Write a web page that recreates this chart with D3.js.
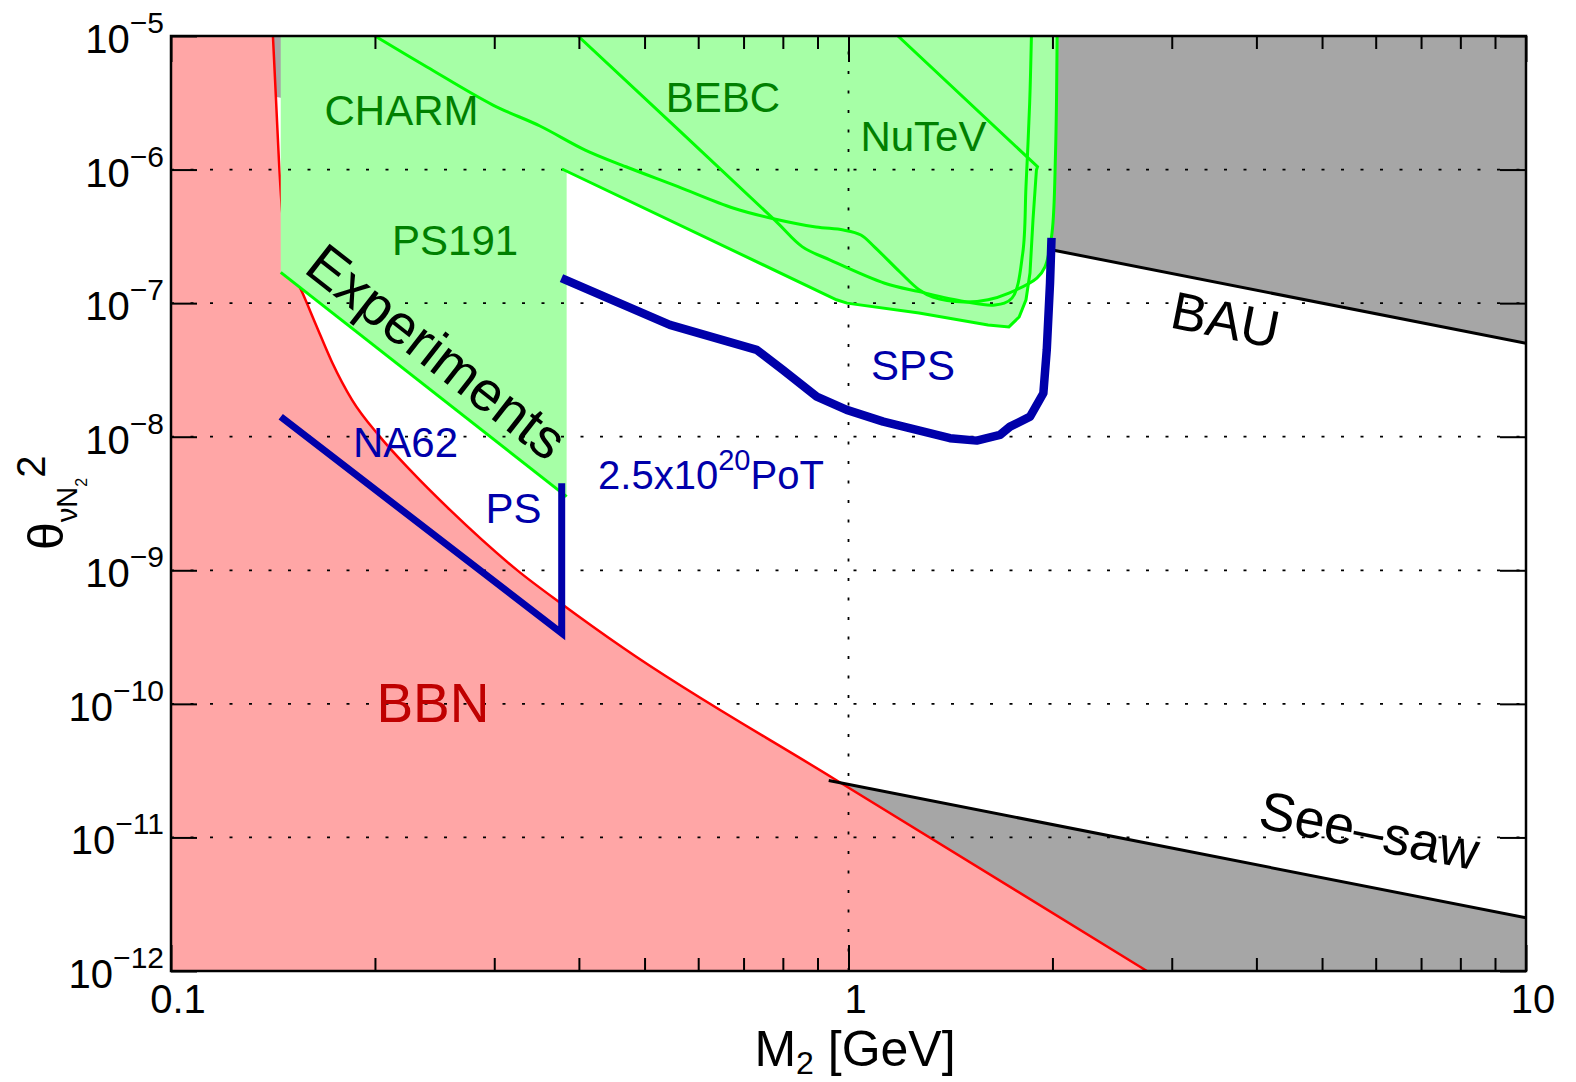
<!DOCTYPE html>
<html>
<head>
<meta charset="utf-8">
<script src="https://cdnjs.cloudflare.com/ajax/libs/d3/7.8.5/d3.min.js"></script>
<style>
    html, body { margin: 0; padding: 0; background: #fff; }
    svg { display: block; font-family: "Liberation Sans", Arial, Helvetica, sans-serif; }
</style>
</head>
<body>
<svg id="chart" width="1576" height="1082"></svg>
<script>
(function () {

    // heavy neutral lepton mass M2 [GeV] and mixing theta^2

    // BBN lower bound (red)
    var bbnM     = [0.1414, 0.1429, 0.1443, 0.1458, 0.1483, 0.1519, 0.1566, 0.1637, 0.1728, 0.1850,
                    0.2035, 0.2253, 0.2581, 0.3252, 0.3773, 0.4647, 0.9519, 2.758],
        bbnTheta = [1e-5, 3.32e-6, 1.18e-6, 4.98e-7, 2.50e-7, 1.65e-7, 1.17e-7, 6.87e-8, 3.63e-8, 1.89e-8,
                    9.97e-9, 5.64e-9, 2.83e-9, 9.90e-10, 5.60e-10, 2.63e-10, 2.75e-11, 1.0e-12];

    // see-saw and BAU lines (black, grey regions)
    var seesawM = [0.935, 10],
        seesawTheta = [2.67e-11, 2.5e-12],
        bauM = [0.1, 2.0, 10],
        bauTheta = [5e-6, 2.5e-7, 5e-8];

    // past experiments (green)
    var charmM     = [0.2000, 0.2387, 0.2987, 0.3504, 0.4087, 0.4694, 0.5603, 0.6753, 0.7777, 0.8953, 0.9828, 1.043,
                      1.092, 1.191, 1.271, 1.332, 1.481, 1.607, 1.725, 1.897, 1.950, 1.997, 2.021, 2.032],
        charmTheta = [1e-5, 5.86e-6, 3.04e-6, 2.12e-6, 1.40e-6, 1.05e-6, 7.45e-7, 5.16e-7, 4.27e-7, 3.72e-7, 3.53e-7, 3.24e-7,
                      2.64e-7, 1.71e-7, 1.26e-7, 1.11e-7, 1.02e-7, 1.06e-7, 1.19e-7, 1.54e-7, 1.87e-7, 3.35e-7, 1.33e-6, 1e-5];

    var bebcM     = [0.3988, 0.7777, 0.8541, 0.9382, 1.131, 1.271, 1.481, 1.645, 1.743, 1.808, 1.828, 1.851, 1.862],
        bebcTheta = [1e-5, 4.20e-7, 2.65e-7, 2.11e-7, 1.41e-7, 1.22e-7, 1.03e-7, 9.69e-8, 1.09e-7, 2.37e-7, 7.45e-7, 3.15e-6, 1e-5];

    var nutevM     = [1.183, 1.901, 1.894, 1.872, 1.853, 1.828, 1.786, 1.725, 1.607, 1.271, 0.995, 0.960, 0.3777],
        nutevTheta = [1e-5, 1.05e-6, 9.93e-7, 4.20e-7, 1.68e-7, 1.06e-7, 7.88e-8, 6.64e-8, 6.87e-8, 8.45e-8, 1.00e-7, 1.06e-7, 1.01e-6];

    var ps191M = [0.1452, 0.3837],
        ps191Theta = [1.70e-7, 3.56e-9];

    // proposed sensitivities (blue)
    var na62M = [0.1452, 0.3773, 0.3773],
        na62Theta = [1.41e-8, 3.38e-10, 4.49e-9];

    var spsM     = [0.377, 0.5449, 0.7320, 0.800, 0.8976, 0.9939, 1.1255, 1.4119, 1.5463, 1.6735, 1.7313,
                    1.8535, 1.9392, 1.9617, 1.9836, 1.9937],
        spsTheta = [1.54e-7, 6.87e-8, 4.47e-8, 3.16e-8, 1.995e-8, 1.588e-8, 1.297e-8, 9.75e-9, 9.35e-9, 1.032e-8, 1.19e-8,
                    1.414e-8, 2.116e-8, 4.47e-8, 1.416e-7, 3.076e-7];

    // axes
    var xMajor = [0.1, 1, 10],
        xMinor = [0.2, 0.3, 0.4, 0.5, 0.6, 0.7, 0.8, 0.9, 2, 3, 4, 5, 6, 7, 8, 9],
        xLabels = ['0.1', '1', '10'],
        yExp = [-5, -6, -7, -8, -9, -10, -11, -12],
        yGrid = [1e-6, 1e-7, 1e-8, 1e-9, 1e-10, 1e-11],
        xGrid = [1];

    var grey = 'rgb(166,166,166)',
        pink = 'rgb(255,166,166)',
        lightGreen = 'rgb(166,255,166)',
        green = '#00ff00',
        darkGreen = 'rgb(0,128,0)',
        blue = 'rgb(0,0,170)';

    var svg = d3.select('#chart'),
        xLo = 0.1, xHi = 10, yLo = 1e-12, yHi = 1e-5,
        x = d3.scaleLog().domain([xLo, xHi]).range([171, 1526]),
        y = d3.scaleLog().domain([yLo, yHi]).range([971, 36]);

    var line = d3.line()
        .x(function (d) { return x(d[0]); })
        .y(function (d) { return y(d[1]); });
    var smooth = d3.line()
        .x(function (d) { return x(d[0]); })
        .y(function (d) { return y(d[1]); })
        .curve(d3.curveCatmullRom.alpha(0.5));
    var mono = d3.line()
        .x(function (d) { return x(d[0]); })
        .y(function (d) { return y(d[1]); })
        .curve(d3.curveMonotoneX);

    function pts(ms, ts) {
        return ms.map(function (m, i) { return [m, ts[i]]; });
    }

    // curve followed by straight edges to some corners, closed
    function closed(gen, c, corners) {
        return gen(c) + corners.map(function (p) { return 'L' + x(p[0]) + ',' + y(p[1]); }).join('') + 'Z';
    }

    svg.append('defs').append('clipPath').attr('id', 'plot-clip')
        .append('rect')
        .attr('x', x(xLo)).attr('y', y(yHi))
        .attr('width', x(xHi) - x(xLo)).attr('height', y(yLo) - y(yHi));

    var plot = svg.append('g').attr('clip-path', 'url(#plot-clip)');

    var bbn = pts(bbnM, bbnTheta),
        seesaw = pts(seesawM, seesawTheta),
        bau = pts(bauM, bauTheta),
        charm = pts(charmM, charmTheta),
        bebc = pts(bebcM, bebcTheta),
        nutev = pts(nutevM, nutevTheta),
        ps191 = pts(ps191M, ps191Theta);

    // grey excluded regions
    plot.append('path')
        .attr('d', closed(line, bau, [[xHi, yHi], [xLo, yHi]]))
        .style('fill', grey);
    plot.append('path')
        .attr('d', closed(line, seesaw, [[xHi, yLo], [seesawM[0], yLo]]))
        .style('fill', grey);

    // BBN
    plot.append('path')
        .attr('d', closed(mono, bbn, [[xLo, yLo], [xLo, yHi]]))
        .style('fill', pink);
    plot.append('path')
        .attr('d', mono(bbn))
        .style('fill', 'none').style('stroke', 'red').style('stroke-width', 2.5);

    // experiments, filled above each curve
    var expCurves = [
        {c: charm, gen: smooth},
        {c: bebc, gen: smooth},
        {c: nutev, gen: line}
    ];
    expCurves.forEach(function (e) {
        var first = e.c[0], last = e.c[e.c.length - 1];
        plot.append('path')
            .attr('d', closed(e.gen, e.c, [[last[0], yHi], [first[0], yHi]]))
            .style('fill', lightGreen);
    });
    plot.append('path')
        .attr('d', line([[ps191M[0], yHi]].concat(ps191, [[ps191M[1], yHi]])) + 'Z')
        .style('fill', lightGreen);

    // grid
    plot.selectAll('.ygrid').data(yGrid).enter().append('line')
        .attr('class', 'ygrid')
        .attr('x1', x(xLo)).attr('x2', x(xHi))
        .attr('y1', y).attr('y2', y)
        .style('stroke', '#000').style('stroke-width', 1.8).style('stroke-dasharray', '3,16.5');
    plot.selectAll('.xgrid').data(xGrid).enter().append('line')
        .attr('class', 'xgrid')
        .attr('y1', y(yLo)).attr('y2', y(yHi))
        .attr('x1', x).attr('x2', x)
        .style('stroke', '#000').style('stroke-width', 1.8).style('stroke-dasharray', '3,16.5');

    expCurves.concat([{c: ps191, gen: line}]).forEach(function (e) {
        plot.append('path').attr('d', e.gen(e.c))
            .style('fill', 'none').style('stroke', green).style('stroke-width', 3);
    });

    // see-saw and BAU borders
    plot.append('path').attr('d', line(seesaw))
        .style('fill', 'none').style('stroke', '#000').style('stroke-width', 3);
    plot.append('path').attr('d', line(bau.slice(1)))
        .style('fill', 'none').style('stroke', '#000').style('stroke-width', 3);

    // NA62 / PS and SPS
    plot.append('path').attr('d', line(pts(na62M, na62Theta)))
        .style('fill', 'none').style('stroke', blue).style('stroke-width', 7)
        .style('stroke-linejoin', 'miter').style('stroke-miterlimit', 10);
    plot.append('path').attr('d', line(pts(spsM, spsTheta)))
        .style('fill', 'none').style('stroke', blue).style('stroke-width', 8.5)
        .style('stroke-linejoin', 'round');

    // frame and ticks
    function ticks(axis, vals, size, tr) {
        var g = svg.append('g').attr('transform', tr)
            .call(axis.tickValues(vals).tickSize(size).tickSizeOuter(0).tickFormat(''));
        g.select('.domain').remove();
        g.selectAll('line').style('stroke', '#000').style('stroke-width', 2);
    }
    ticks(d3.axisBottom(x), xMajor, -26, 'translate(0,' + y(yLo) + ')');
    ticks(d3.axisBottom(x), xMinor, -13, 'translate(0,' + y(yLo) + ')');
    ticks(d3.axisTop(x), xMajor, -26, 'translate(0,' + y(yHi) + ')');
    ticks(d3.axisTop(x), xMinor, -13, 'translate(0,' + y(yHi) + ')');
    var yTicks = yExp.map(function (e) { return Math.pow(10, e); });
    ticks(d3.axisLeft(y), yTicks, -26, 'translate(' + x(xLo) + ',0)');
    ticks(d3.axisRight(y), yTicks, -26, 'translate(' + x(xHi) + ',0)');

    svg.append('rect')
        .attr('x', x(xLo)).attr('y', y(yHi))
        .attr('width', x(xHi) - x(xLo)).attr('height', y(yLo) - y(yHi))
        .style('fill', 'none').style('stroke', '#000').style('stroke-width', 2.5);

    // tick labels
    var yl = svg.selectAll('.ylab').data(yExp).enter().append('text')
        .attr('class', 'ylab')
        .attr('x', x(xLo) - 7)
        .attr('y', function (e) { return y(Math.pow(10, e)) + 17; })
        .attr('text-anchor', 'end');
    yl.append('tspan').style('font-size', '40px').text('10');
    yl.append('tspan').style('font-size', '30px').attr('dy', -20)
        .text(function (e) { return '\u2212' + (-e); });

    svg.selectAll('.xlab').data(xMajor).enter().append('text')
        .attr('class', 'xlab')
        .attr('x', function (d) { return x(d) + 7; })
        .attr('y', 1013)
        .attr('text-anchor', 'middle')
        .style('font-size', '40px')
        .text(function (d, i) { return xLabels[i]; });

    // axis titles
    var xt = svg.append('text')
        .attr('x', 855).attr('y', 1066)
        .attr('text-anchor', 'middle');
    xt.append('tspan').style('font-size', '50px').text('M');
    xt.append('tspan').style('font-size', '32px').attr('dy', 8).text('2');
    xt.append('tspan').style('font-size', '50px').attr('dy', -8).text(' [GeV]');

    var yt = svg.append('text')
        .attr('transform', 'translate(63,550) rotate(-90)');
    yt.append('tspan').style('font-size', '50px').text('\u03b8');
    yt.append('tspan').style('font-size', '29px').attr('dy', 14).text('\u03bdN');
    yt.append('tspan').style('font-size', '16px').attr('dy', 10).text('2');
    yt.append('tspan').style('font-size', '40px').attr('dy', -42).text('2');

    // region labels
    var labels = [
        {text: 'CHARM', m: 0.2189, t: 2.16e-6, color: darkGreen, size: 42},
        {text: 'BEBC', m: 0.6528, t: 2.71e-6, color: darkGreen, size: 42},
        {text: 'NuTeV', m: 1.290, t: 1.38e-6, color: darkGreen, size: 42},
        {text: 'PS191', m: 0.2626, t: 2.30e-7, color: darkGreen, size: 42},
        {text: 'NA62', m: 0.2219, t: 7.06e-9, color: blue, size: 42},
        {text: 'PS', m: 0.3202, t: 2.26e-9, color: blue, size: 42},
        {text: 'SPS', m: 1.245, t: 2.66e-8, color: blue, size: 42},
        {text: 'BBN', m: 0.2436, t: 7.33e-11, color: 'rgb(191,0,0)', size: 55},
        {text: 'BAU', m: 3.558, t: 5.49e-8, color: '#000', size: 53, rotate: 11.2},
        {text: 'See\u2013saw', m: 5.80, t: 8.22e-12, color: '#000', size: 54, rotate: 11.2},
        {text: 'Experiments', m: 0.2370, t: 3.33e-8, color: '#000', size: 56, rotate: 38}
    ];
    svg.selectAll('.region').data(labels).enter().append('text')
        .attr('class', 'region')
        .attr('text-anchor', 'middle')
        .attr('transform', function (d) {
            return 'translate(' + x(d.m) + ',' + y(d.t) + ')' + (d.rotate ? ' rotate(' + d.rotate + ')' : '');
        })
        .style('fill', function (d) { return d.color; })
        .style('font-size', function (d) { return d.size + 'px'; })
        .text(function (d) { return d.text; });

    var pot = svg.append('text')
        .attr('x', x(0.4270)).attr('y', y(4.07e-9))
        .style('fill', blue);
    pot.append('tspan').style('font-size', '40px').text('2.5x10');
    pot.append('tspan').style('font-size', '29px').attr('dy', -19).text('20');
    pot.append('tspan').style('font-size', '40px').attr('dy', 19).text('PoT');

}());
</script>
</body>
</html>
